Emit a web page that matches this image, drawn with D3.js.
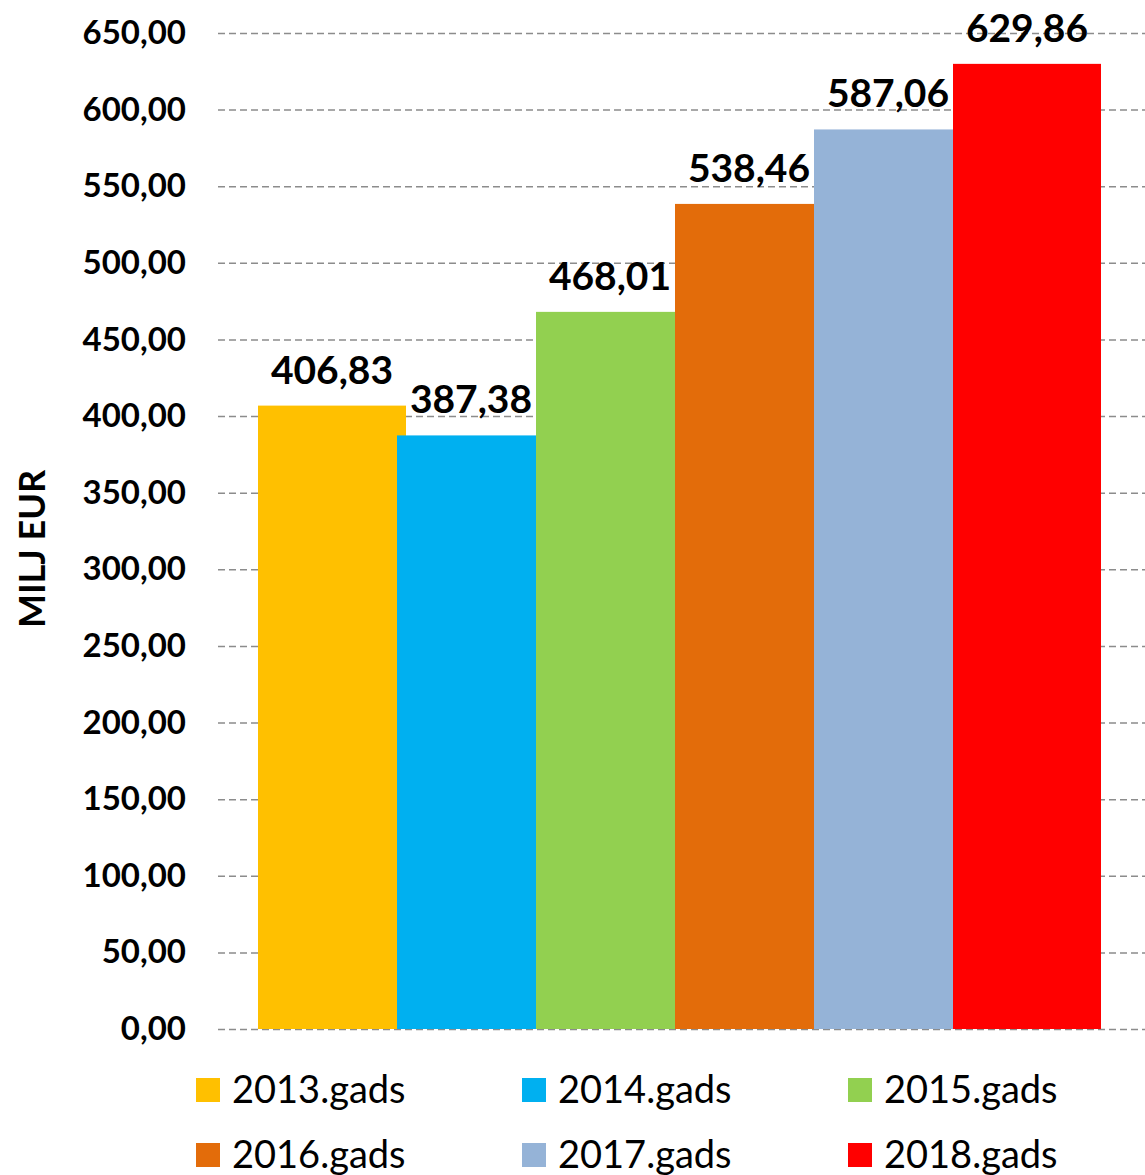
<!DOCTYPE html>
<html>
<head>
<meta charset="utf-8">
<script src="https://cdn.jsdelivr.net/npm/d3@7"></script>
<style>
  body { margin: 0; background: #fff; }
  svg text { font-family: Lato, "Open Sans", sans-serif; fill: #000; }
</style>
</head>
<body>
<svg id="chart" width="1145" height="1175"></svg>
<script>
// data
var years = ['2013.gads', '2014.gads', '2015.gads', '2016.gads', '2017.gads', '2018.gads'];
var values = [406.83, 387.38, 468.01, 538.46, 587.06, 629.86];
var colors = ['#ffc000', '#00b0f0', '#92d050', '#e36c0a', '#95b3d7', '#ff0000'];
var yTicks = [0, 50, 100, 150, 200, 250, 300, 350, 400, 450, 500, 550, 600, 650];

var svg = d3.select('#chart');
var fmt = function (v) { return d3.format('.2f')(v).replace('.', ','); };

var y = d3.scaleLinear().domain([0, 650]).range([1029, 33]);
var x = d3.scaleBand().domain(years).range([258, 1092]).padding(0);
var barW = x.bandwidth() * 148 / 139;   // bars overlap a bit, like the excel original

// grid
svg.append('g').selectAll('line')
  .data(yTicks)
  .enter().append('line')
  .attr('x1', 218).attr('x2', 1145)
  .attr('y1', function (d) { return y(d) + 0.5; })
  .attr('y2', function (d) { return y(d) + 0.5; })
  .attr('stroke', '#8c8c8c')
  .attr('stroke-width', 1.5)
  .attr('stroke-dasharray', '7,4');

// y axis labels
var yAxis = d3.axisLeft(y).tickValues(yTicks).tickFormat(fmt).tickSize(0).tickPadding(0);
var ax = svg.append('g').attr('transform', 'translate(186,0)').call(yAxis);
ax.select('.domain').remove();
ax.selectAll('text')
  .style('font-family', 'Lato, sans-serif')
  .style('font-size', '33px')
  .style('font-weight', 'bold')
  .attr('fill', '#000');

// bars
svg.append('g').selectAll('rect')
  .data(values)
  .enter().append('rect')
  .attr('x', function (d, i) { return x(years[i]); })
  .attr('y', function (d) { return y(d); })
  .attr('width', barW)
  .attr('height', function (d) { return y(0) - y(d); })
  .attr('fill', function (d, i) { return colors[i]; });

// value labels
svg.append('g').selectAll('text')
  .data(values)
  .enter().append('text')
  .attr('x', function (d, i) { return x(years[i]) + barW / 2; })
  .attr('y', function (d) { return y(d) - 22; })
  .attr('text-anchor', 'middle')
  .style('font-size', '39px')
  .style('font-weight', 'bold')
  .text(fmt);

// y title
svg.append('text')
  .attr('transform', 'translate(45,549) rotate(-90)')
  .attr('text-anchor', 'middle')
  .style('font-size', '36px')
  .style('font-weight', 'bold')
  .text('MILJ EUR');

// legend
var leg = svg.append('g').selectAll('g')
  .data(years)
  .enter().append('g')
  .attr('transform', function (d, i) {
    return 'translate(' + (196 + (i % 3) * 326) + ',' + (1078 + Math.floor(i / 3) * 65) + ')';
  });
leg.append('rect')
  .attr('width', 24).attr('height', 24)
  .attr('fill', function (d, i) { return colors[i]; });
leg.append('text')
  .attr('x', 36).attr('y', 25)
  .style('font-size', '38px')
  .text(function (d) { return d; });
</script>
</body>
</html>
